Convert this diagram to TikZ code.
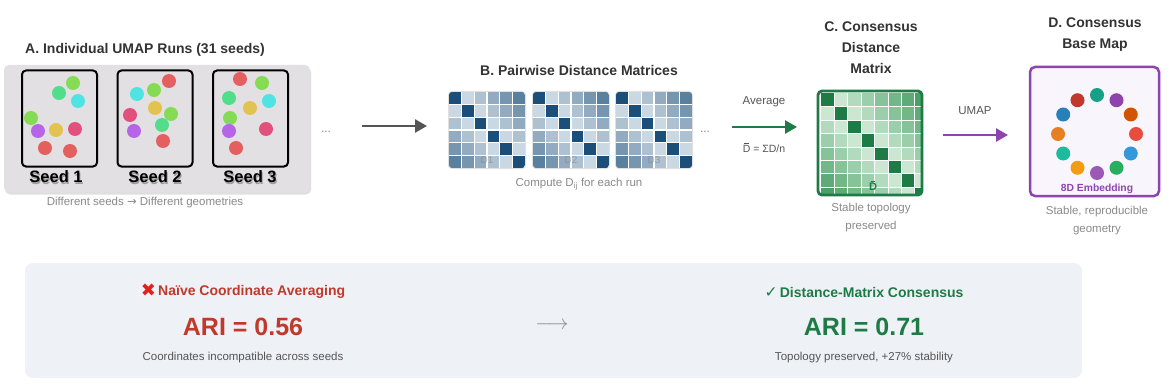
\documentclass[tikz,border=0pt]{standalone}
\usepackage{fontspec}
\setmainfont{Liberation Sans}
\newfontfamily\symfont{DejaVu Sans}
\usetikzlibrary{arrows.meta,shadows,calc}
\definecolor{titlegray}{HTML}{333333}
\definecolor{capgray}{HTML}{8A8A8A}
\definecolor{midgray}{HTML}{555555}
\definecolor{panelgray}{HTML}{E2E0E2}
\definecolor{botbg}{HTML}{EEF2F7}
\definecolor{sred}{HTML}{E45F5F}
\definecolor{slime}{HTML}{86DB55}
\definecolor{sgreen}{HTML}{52DD8A}
\definecolor{scyan}{HTML}{4FE3E3}
\definecolor{spurple}{HTML}{B565E6}
\definecolor{syellow}{HTML}{E2C250}
\definecolor{spink}{HTML}{E2507E}
\definecolor{bm0}{HTML}{1B4F7A}
\definecolor{bm1}{HTML}{C9D8E2}
\definecolor{bm2}{HTML}{ADC1D0}
\definecolor{bm3}{HTML}{92ABC0}
\definecolor{bm4}{HTML}{7696B0}
\definecolor{bm5}{HTML}{5A80A0}
\definecolor{gm0}{HTML}{1E7B45}
\definecolor{gm1}{HTML}{CBE7D2}
\definecolor{gm2}{HTML}{B2DABD}
\definecolor{gm3}{HTML}{9BCEAA}
\definecolor{gm4}{HTML}{86C398}
\definecolor{gm5}{HTML}{72B787}
\definecolor{gm6}{HTML}{5FAB77}
\definecolor{gm7}{HTML}{4C9F67}
\definecolor{dgreen}{HTML}{1E7B45}
\definecolor{dpurple}{HTML}{8E44AD}
\definecolor{dred}{HTML}{C0392B}
\definecolor{xred}{HTML}{E0201B}
\definecolor{lav}{HTML}{F8F5FC}
\definecolor{c1}{HTML}{16A085}
\definecolor{c2}{HTML}{8E44AD}
\definecolor{c3}{HTML}{D35400}
\definecolor{c4}{HTML}{E74C3C}
\definecolor{c5}{HTML}{3498DB}
\definecolor{c6}{HTML}{27AE60}
\definecolor{c7}{HTML}{9B59B6}
\definecolor{c8}{HTML}{F39C12}
\definecolor{c9}{HTML}{1ABC9C}
\definecolor{c10}{HTML}{E67E22}
\definecolor{c11}{HTML}{2980B9}
\definecolor{c12}{HTML}{C0392B}
\newcommand\Dbar{\ooalign{D\cr\hidewidth\raisebox{0.82em}{\rule{0.42em}{0.07em}}\hidewidth\cr}}
\newcommand\DistMat[4]{%
  \fill[black!12,rounded corners=4] (#1-1,#2-1) rectangle ++(78,78);
  \begin{scope}
    \clip[rounded corners=3] (#1,#2) rectangle ++(76,76);
    \foreach \i in {0,...,5}{\foreach \j in {0,...,5}{%
      \pgfmathtruncatemacro\dd{abs(\i-\j)}%
      \fill[bm\dd] (#1+\j*76/6,#2+\i*76/6) rectangle ++(76/6,76/6);}}
    \foreach \k in {1,...,5}{%
      \draw[white,line width=1.3] (#1+\k*76/6,#2) -- ++(0,76);
      \draw[white,line width=1.3] (#1,#2+\k*76/6) -- ++(76,0);}
  \end{scope}
  \node[inner sep=0,minimum size=76] (#3) at (#1+38,#2+38) {};
  \node[inner sep=0,font=\fontsize{10}{12}\selectfont,text=gray,opacity=.55] (#3lab) at (#1+38,#2+68) {#4};
}
\tikzset{
  title/.style={inner sep=0,align=center,text=titlegray,font=\fontsize{14}{21}\selectfont\bfseries},
  captxt/.style={inner sep=0,align=center,text=capgray,font=\fontsize{11.5}{18}\selectfont},
  seedbox/.style={draw=black,line width=2,rounded corners=4,minimum width=75,minimum height=96,inner sep=0},
  seedlab/.style={inner sep=0,font=\fontsize{16.5}{18}\selectfont\bfseries},
  arr/.style={line width=2.6,-{Triangle[length=12pt,width=13pt]}},
}
\begin{document}
\begin{tikzpicture}[x=1pt,y=-1pt]
\useasboundingbox[fill=white] (0,0) rectangle (1175,385);

% ---------- Panel A ----------
\node[title] (titleA) at (145,50) {A. Individual UMAP Runs (31 seeds)};
\node[fill=panelgray,rounded corners=5,minimum width=306,minimum height=127,inner sep=0,
      drop shadow={shadow xshift=1pt,shadow yshift=-2.5pt,opacity=.25}] (panelA) at (157,128.5) {};
\node[seedbox] (box1) at (59.5,118.5) {};
\node[seedbox] (box2) at (155,118.5) {};
\node[seedbox] (box3) at (250.5,118.5) {};
% seed 1 dots
\fill[slime] (73,83) circle (7);
\fill[sgreen] (59,93) circle (7);
\fill[scyan] (78,101) circle (7);
\fill[slime] (31,118) circle (7);
\fill[spurple] (38,131) circle (7);
\fill[syellow] (56,130) circle (7);
\fill[spink] (75,129) circle (7);
\fill[sred] (45,148) circle (7);
\fill[sred] (70,151) circle (7);
% seed 2 dots
\fill[sred] (169,81) circle (7);
\fill[scyan] (137,94) circle (7);
\fill[slime] (154,90) circle (7);
\fill[spink] (130,115) circle (7);
\fill[syellow] (155,108) circle (7);
\fill[slime] (171,114) circle (7);
\fill[sgreen] (162,125) circle (7);
\fill[spurple] (134,131) circle (7);
\fill[sred] (163,141) circle (7);
% seed 3 dots
\fill[sred] (240,79) circle (7);
\fill[slime] (262,83) circle (7);
\fill[sgreen] (229,98) circle (7);
\fill[syellow] (250,108) circle (7);
\fill[scyan] (269,101) circle (7);
\fill[slime] (230,118) circle (7);
\fill[spurple] (229,131) circle (7);
\fill[spink] (266,129) circle (7);
\fill[sred] (236,148) circle (7);
% seed labels with soft shadow
\foreach \x/\n in {56/1,155/2,250/3}{
  \node[seedlab,text=black,opacity=.3] at (\x+1,178.2) {Seed \n};
  \node[seedlab,text=black] (seed\n) at (\x,177) {Seed \n};
}
\node[captxt] (capA) at (145,203) {Different seeds {\symfont →} Different geometries};
\node[inner sep=0,text=capgray,font=\fontsize{12}{14}\selectfont] (dotsA) at (326,132) {...};

% arrow A -> B
\coordinate (arrAs) at (362,126);
\coordinate (arrAe) at (427,126);
\draw[arr,midgray] (arrAs) -- (arrAe);

% ---------- Panel B ----------
\node[title] (titleB) at (579,70) {B. Pairwise Distance Matrices};
\DistMat{449}{92}{matB1}{D1}
\DistMat{533}{92}{matB2}{D2}
\DistMat{616}{92}{matB3}{D3}
\node[inner sep=0,text=capgray,font=\fontsize{12}{14}\selectfont] (dotsB) at (705,132) {...};
\node[captxt] (capB) at (579,184) {Compute D\textsubscript{ij} for each run};

% arrow B -> C
\coordinate (arrBs) at (732,127);
\coordinate (arrBe) at (797,127);
\draw[arr,dgreen] (arrBs) -- (arrBe);
\node[captxt,text=midgray] (avg) at (764,102) {Average};
\node[captxt,text=midgray,font=\fontsize{10.5}{12}\selectfont] (formula) at (764,149) {\Dbar\ = ΣD/n};

% ---------- Panel C ----------
\node[title] (titleC) at (871,47.5) {C. Consensus\\Distance\\Matrix};
\begin{scope}
  \clip[rounded corners=4] (818,91) rectangle ++(104,104);
  \foreach \i in {0,...,7}{\foreach \j in {0,...,7}{%
    \pgfmathtruncatemacro\dd{abs(\i-\j)}%
    \fill[gm\dd] (821+\j*13.4,93.5+\i*13.4) rectangle ++(13.4,13.4);}}
  \foreach \k in {1,...,7}{%
    \draw[white,line width=0.9] (821+\k*13.4,91) -- ++(0,104);
    \draw[white,line width=0.9] (818,93.5+\k*13.4) -- ++(104,0);}
\end{scope}
\node[draw=dgreen,line width=2.8,rounded corners=4,minimum size=104,inner sep=0] (matC) at (870,143) {};
\node[inner sep=0,text=dgreen,font=\fontsize{11}{12}\selectfont\bfseries] (matClab) at (873,187) {\Dbar};
\node[captxt] (capC) at (871,218) {Stable topology\\preserved};

% arrow C -> D
\coordinate (arrCs) at (943,135);
\coordinate (arrCe) at (1008,135);
\draw[arr,dpurple] (arrCs) -- (arrCe);
\node[captxt,text=midgray] (umap) at (975,111) {UMAP};

% ---------- Panel D ----------
\node[title] (titleD) at (1095,34.5) {D. Consensus\\Base Map};
\node[draw=dpurple,fill=lav,line width=2.5,rounded corners=5,minimum width=129,minimum height=129,inner sep=0] (boxD) at (1094.5,131.5) {};
\foreach \a/\c in {90/c1,60/c2,30/c3,0/c4,-30/c5,-60/c6,-90/c7,-120/c8,-150/c9,180/c10,150/c11,120/c12}{
  \fill[\c] ($(1097,134)+(\a:39 and -39)$) circle (7);
}
\node[inner sep=0,text=dpurple,font=\fontsize{10.3}{12}\selectfont\bfseries] (embD) at (1097,189) {8D Embedding};
\node[captxt] (capD) at (1097,221) {Stable, reproducible\\geometry};

% ---------- Bottom comparison ----------
\node[fill=botbg,rounded corners=8,minimum width=1057,minimum height=115,inner sep=0] (bottom) at (553.5,320.5) {};
\node[inner sep=0,text=dred,font=\fontsize{14}{16}\selectfont\bfseries] (naive) at (243,291)
  {\raisebox{-0.08em}{\symfont\fontsize{18}{18}\selectfont\color{xred}✖}\,Naïve Coordinate Averaging};
\node[inner sep=0,text=dred,font=\fontsize{25}{28}\selectfont\bfseries] (ariL) at (243,327) {ARI = 0.56};
\node[inner sep=0,text=midgray,font=\fontsize{11.5}{14}\selectfont] (capL) at (243,358) {Coordinates incompatible across seeds};
\node[inner sep=0,text=capgray,font=\fontsize{22}{24}\selectfont] (midarrow) at (552,326) {$\longrightarrow$};
\node[inner sep=0,text=dgreen,font=\fontsize{14}{16}\selectfont\bfseries] (dmc) at (864,292)
  {{\symfont\fontsize{15.5}{16}\selectfont ✓}\,Distance-Matrix Consensus};
\node[inner sep=0,text=dgreen,font=\fontsize{25}{28}\selectfont\bfseries] (ariR) at (864,327) {ARI = 0.71};
\node[inner sep=0,text=midgray,font=\fontsize{11.5}{14}\selectfont] (capR) at (864,358) {Topology preserved, +27\% stability};
\end{tikzpicture}
\end{document}
